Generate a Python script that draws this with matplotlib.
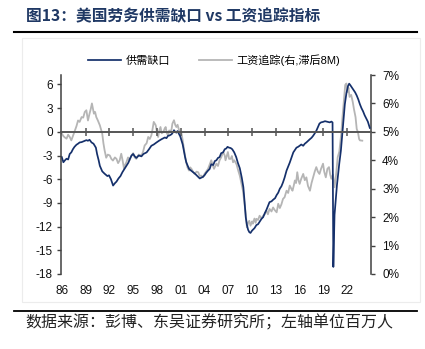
import numpy as np
import matplotlib
matplotlib.use("Agg")
import matplotlib.pyplot as plt
from matplotlib.lines import Line2D
from matplotlib.patches import Rectangle
from matplotlib.ticker import FuncFormatter

plt.rcParams['font.family'] = ['Liberation Sans', 'Noto Sans CJK SC']
plt.rcParams['axes.unicode_minus'] = False

# 供需缺口 (left axis, million persons)
gap_t = [1986.0, 1986.2, 1986.4, 1986.6, 1986.8, 1987.0, 1987.2, 1987.4, 1987.6, 1987.85,
         1988.05, 1988.25, 1988.5, 1988.7, 1988.9, 1989.1, 1989.3, 1989.5, 1989.75, 1990.0,
         1990.15, 1990.3, 1990.45, 1990.65, 1990.8, 1991.1, 1991.4, 1991.75, 1991.95, 1992.2,
         1992.47, 1992.7, 1992.9, 1993.15, 1993.4, 1993.65, 1993.9, 1994.15, 1994.4, 1994.6,
         1994.8, 1995.0, 1995.2, 1995.4, 1995.7, 1996.05, 1996.3, 1996.7, 1997.0, 1997.3,
         1997.6, 1997.95, 1998.3, 1998.6, 1999.0, 1999.2, 1999.4, 1999.6, 1999.85, 2000.0,
         2000.15, 2000.3, 2000.45, 2000.6, 2000.8, 2000.95, 2001.1, 2001.25, 2001.4, 2001.55,
         2001.7, 2002.05, 2002.3, 2002.55, 2002.8, 2003.0, 2003.2, 2003.4, 2003.6, 2003.8,
         2004.0, 2004.2, 2004.45, 2004.65, 2004.85, 2005.1, 2005.3, 2005.5, 2005.7, 2005.9,
         2006.1, 2006.35, 2006.55, 2006.75, 2006.9, 2007.1, 2007.3, 2007.5, 2007.75, 2008.0,
         2008.2, 2008.45, 2008.7, 2008.9, 2009.05, 2009.2, 2009.35, 2009.5, 2009.65, 2009.8,
         2010.0, 2010.1, 2010.3, 2010.55, 2010.75, 2010.95, 2011.2, 2011.4, 2011.6, 2011.8,
         2012.0, 2012.2, 2012.45, 2012.65, 2012.9, 2013.1, 2013.3, 2013.5, 2013.7, 2013.9,
         2014.1, 2014.35, 2014.55, 2014.75, 2015.0, 2015.2, 2015.4, 2015.6, 2015.8, 2016.0,
         2016.2, 2016.45, 2016.65, 2016.85, 2017.1, 2017.3, 2017.5, 2017.7, 2017.9, 2018.1,
         2018.3, 2018.5, 2018.7, 2018.95, 2019.2, 2019.4, 2019.6, 2019.8, 2020.0, 2020.15,
         2020.25, 2020.4, 2020.55, 2020.7, 2020.85, 2021.0, 2021.2, 2021.45, 2021.7, 2021.9,
         2022.1, 2022.25, 2022.4, 2022.6, 2022.8, 2023.0, 2023.2, 2023.4, 2023.6, 2023.8,
         2024.0, 2024.2, 2024.4, 2024.6, 2024.85]
gap_v = [-3.2, -3.85, -3.6, -3.4, -3.5, -2.8, -2.6, -2.2, -1.9, -1.63,
         -1.5, -1.34, -1.3, -1.22, -1.15, -1.05, -1.13, -1.0, -1.34, -1.5,
         -1.76, -2.0, -2.8, -3.6, -4.3, -5.0, -5.3, -5.6, -5.5, -6.0,
         -6.8, -6.5, -6.3, -5.9, -5.6, -5.1, -4.7, -4.3, -3.9, -3.4,
         -3.0, -2.8, -3.1, -3.3, -3.0, -3.1, -2.8, -2.6, -2.2, -1.76,
         -1.6, -1.34, -1.1, -0.92, -0.71, -0.8, -0.5, -0.45, -0.3, -0.1,
         0.21, 0.0, -0.1, 0.1, -0.3, -0.6, -1.1, -1.6, -2.4, -3.2,
         -3.85, -4.7, -4.9, -5.1, -5.3, -5.5, -5.7, -5.9, -5.8, -5.7,
         -5.5, -5.2, -4.9, -4.7, -4.1, -4.2, -3.7, -3.6, -3.3, -3.2,
         -2.7, -2.6, -2.2, -2.1, -1.9, -2.0, -2.05, -2.2, -2.6, -3.2,
         -3.9, -4.6, -5.8, -7.0, -8.8, -10.8, -11.8, -12.4, -12.7, -12.8,
         -12.5, -12.4, -12.2, -11.8, -11.7, -11.4, -11.0, -10.8, -10.3, -9.9,
         -9.4, -8.9, -8.8, -8.6, -8.4, -8.0, -7.7, -7.2, -6.9, -6.4,
         -5.8, -4.9, -4.4, -3.9, -3.2, -2.6, -2.3, -2.0, -1.9, -1.76,
         -1.6, -1.76, -1.5, -1.34, -1.1, -0.92, -0.75, -0.5, -0.2, 0.13,
         0.6, 1.05, 1.2, 1.26, 1.35, 1.3, 1.25, 1.2, 1.3, 1.2,
         -17.1, -10.5, -8.7, -6.8, -5.4, -4.0, -2.4, 0.5, 3.5, 4.9,
         5.8, 6.1, 5.9, 5.6, 5.3, 5.0, 4.6, 4.1, 3.5, 3.0,
         2.6, 2.1, 1.7, 1.3, 0.5]

# 工资追踪 (right axis, %, lagged 8M)
wage_t = [1986.0, 1986.2, 1986.4, 1986.6, 1986.8, 1987.0, 1987.2, 1987.4, 1987.65, 1987.85,
          1988.05, 1988.25, 1988.5, 1988.7, 1988.9, 1989.1, 1989.3, 1989.5, 1989.65, 1989.8,
          1990.05, 1990.2, 1990.35, 1990.55, 1990.8, 1991.1, 1991.25, 1991.4, 1991.6, 1991.8,
          1992.05, 1992.25, 1992.45, 1992.7, 1992.9, 1993.1, 1993.3, 1993.5, 1993.7, 1993.85,
          1994.0, 1994.15, 1994.35, 1994.55, 1994.75, 1995.0, 1995.2, 1995.4, 1995.7, 1996.05,
          1996.25, 1996.45, 1996.7, 1996.9, 1997.1, 1997.3, 1997.45, 1997.6, 1997.85, 1998.0,
          1998.15, 1998.3, 1998.45, 1998.6, 1998.8, 1998.95, 1999.1, 1999.25, 1999.4, 1999.55,
          1999.7, 1999.85, 1999.95, 2000.15, 2000.3, 2000.45, 2000.6, 2000.8, 2000.95, 2001.1,
          2001.25, 2001.4, 2001.55, 2001.7, 2001.85, 2002.05, 2002.2, 2002.35, 2002.55, 2002.75,
          2003.0, 2003.2, 2003.4, 2003.6, 2003.8, 2004.0, 2004.2, 2004.45, 2004.65, 2004.85,
          2005.05, 2005.2, 2005.5, 2005.7, 2005.9, 2006.1, 2006.35, 2006.55, 2006.65, 2006.8,
          2006.95, 2007.1, 2007.3, 2007.45, 2007.6, 2007.75, 2007.9, 2008.05, 2008.25, 2008.45,
          2008.65, 2008.85, 2009.05, 2009.2, 2009.35, 2009.5, 2009.65, 2009.8, 2010.0, 2010.1,
          2010.3, 2010.45, 2010.55, 2010.75, 2010.95, 2011.2, 2011.4, 2011.6, 2011.8, 2012.0,
          2012.2, 2012.45, 2012.65, 2012.85, 2013.1, 2013.3, 2013.5, 2013.7, 2013.9, 2014.1,
          2014.35, 2014.55, 2014.75, 2014.95, 2015.1, 2015.25, 2015.4, 2015.55, 2015.7, 2015.85,
          2016.0, 2016.2, 2016.45, 2016.65, 2016.85, 2017.05, 2017.3, 2017.5, 2017.7, 2017.9,
          2018.1, 2018.3, 2018.5, 2018.7, 2018.95, 2019.1, 2019.3, 2019.5, 2019.7, 2019.85,
          2020.0, 2020.2, 2020.4, 2020.6, 2020.8, 2021.0, 2021.25, 2021.4, 2021.55, 2021.75,
          2021.9, 2022.05, 2022.15, 2022.3, 2022.5, 2022.7, 2022.85, 2023.05, 2023.2, 2023.35,
          2023.5, 2023.6, 2023.9]
wage_v = [4.94, 4.85, 4.8, 4.76, 4.9, 4.82, 4.7, 4.85, 5.05, 5.2,
          5.4, 5.35, 5.52, 5.5, 5.7, 5.76, 5.4, 5.64, 5.8, 6.0,
          5.64, 5.7, 5.52, 5.4, 5.23, 4.94, 4.6, 4.35, 4.09, 4.2,
          4.17, 4.05, 3.99, 4.1, 4.05, 3.9, 4.0, 4.23, 3.95, 3.7,
          3.85, 3.93, 4.1, 4.0, 4.15, 4.25, 4.1, 4.05, 4.2, 4.17,
          4.3, 4.52, 4.6, 4.82, 4.75, 4.88, 5.1, 5.35, 5.23, 5.0,
          4.82, 5.05, 5.17, 4.95, 4.99, 5.1, 5.17, 4.95, 4.88, 5.05,
          4.99, 5.1, 5.29, 5.41, 5.25, 5.17, 5.25, 5.05, 5.0, 4.94,
          4.7, 4.41, 4.15, 3.93, 3.75, 3.64, 3.75, 3.7, 3.6, 3.52,
          3.6, 3.58, 3.45, 3.46, 3.4, 3.52, 3.6, 3.7, 3.85, 4.0,
          3.82, 3.7, 3.88, 3.8, 4.0, 4.1, 4.29, 4.17, 4.0, 4.15,
          4.29, 4.05, 4.05, 4.15, 3.93, 4.0, 3.93, 3.85, 3.64, 3.46,
          3.2, 2.93, 2.46, 2.11, 1.64, 1.8, 1.87, 1.7, 1.85, 1.77,
          1.95, 1.8, 1.94, 1.9, 2.05, 1.95, 2.05, 2.1, 2.23, 2.1,
          2.29, 2.2, 2.34, 2.25, 2.17, 2.47, 2.32, 2.45, 2.64, 2.7,
          2.93, 2.85, 3.11, 3.0, 2.93, 3.1, 3.29, 3.2, 3.58, 3.3,
          3.17, 3.35, 3.52, 3.3, 3.4, 3.1, 2.93, 3.2, 3.4, 3.6,
          3.76, 3.6, 3.52, 3.7, 3.88, 3.6, 3.4, 3.7, 3.76, 3.5,
          3.35, 3.5, 3.05, 3.5, 4.11, 4.3, 4.94, 5.5, 6.0, 6.65,
          6.7, 6.4, 6.55, 6.23, 6.3, 6.05, 5.8, 5.52, 5.1, 4.99,
          4.75, 4.7, 4.69]

tick_years = [1986, 1989, 1992, 1995, 1998, 2001, 2004, 2007, 2010, 2013, 2016, 2019, 2022]
tick_labels = ['86', '89', '92', '95', '98', '01', '04', '07', '10', '13', '16', '19', '22']
left_ticks = [6, 3, 0, -3, -6, -9, -12, -15, -18]
right_ticks = [0, 1, 2, 3, 4, 5, 6, 7]

blue = '#15306b'
grey = '#b5b5b5'
axis_c = '#404040'

W, H = 425, 349
fig = plt.figure(figsize=(W / 100, H / 100), dpi=100)

# faint panel border
fig.add_artist(Rectangle((22 / W, 1 - 302 / H), 398 / W, 264 / H, transform=fig.transFigure,
                         fill=False, edgecolor='#ececec', lw=0.8))

ax = fig.add_axes([61 / W, 1 - 274 / H, 310 / W, 199 / H])
ax2 = ax.twinx()
ax.set_zorder(ax2.get_zorder() + 1)
ax.patch.set_visible(False)

ax2.plot(wage_t, wage_v, color=grey, lw=1.3, label='工资追踪(右,滞后8M)')
ax.plot(gap_t, gap_v, color=blue, lw=1.25, label='供需缺口')

ax.set_xlim(1985.9, 2025.0)
ax.set_ylim(-18, 7.2)
ax2.set_ylim(0, 7)

# x axis drawn on the zero line
ax.spines['top'].set_visible(False)
ax2.spines['top'].set_visible(False)
ax2.spines['bottom'].set_visible(False)
ax2.spines['left'].set_visible(False)
ax.spines['right'].set_visible(False)
ax.spines['bottom'].set_position(('data', 0))
ax.spines['bottom'].set_color('#555555')
ax.spines['bottom'].set_linewidth(1.4)
ax.spines['left'].set_color(axis_c)
ax.spines['left'].set_linewidth(1.1)
ax2.spines['right'].set_color(axis_c)
ax2.spines['right'].set_linewidth(1.1)

ax.set_xticks(tick_years[1:])
ax.tick_params(axis='x', direction='inout', length=6, width=1.1, color='#555555',
               labelbottom=False)

sec = ax.secondary_xaxis('bottom')
sec.set_xticks(tick_years, tick_labels)
sec.spines['bottom'].set_visible(False)
sec.tick_params(axis='x', length=0, pad=8, labelsize=8.5, labelcolor='#111111')

ax.set_yticks(left_ticks)
ax.tick_params(axis='y', direction='out', length=3, width=1.0, color=axis_c,
               pad=3, labelsize=8.5, labelcolor='#111111')
ax2.set_yticks(right_ticks)
ax2.yaxis.set_major_formatter(FuncFormatter(lambda v, p: f'{v:.0f}%'))
ax2.tick_params(axis='y', direction='out', length=3, width=1.0, color=axis_c,
                pad=5, labelsize=8.5, labelcolor='#111111')

h1, l1 = ax.get_legend_handles_labels()
h2, l2 = ax2.get_legend_handles_labels()
fig.legend(h1 + h2, l1 + l2, loc='center', bbox_to_anchor=(214 / W, 1 - 60 / H),
           ncol=2, frameon=False, fontsize=8, handlelength=3.0, handletextpad=0.4,
           columnspacing=2.6)

fig.text(26 / W, 1 - 16 / H, '图13：美国劳务供需缺口 vs 工资追踪指标', fontsize=11.3,
         fontweight='bold', color='#1f3864', va='center', ha='left',
         family=['Noto Sans CJK SC', 'DejaVu Sans'])
fig.add_artist(Line2D([14 / W, 417 / W], [1 - 32 / H] * 2, color='black', lw=1.5))
fig.add_artist(Line2D([14 / W, 417 / W], [1 - 311 / H] * 2, color='black', lw=1.3))
fig.text(25 / W, 1 - 323 / H, '数据来源：彭博、东吴证券研究所；左轴单位百万人', fontsize=11.5,
         color='#222222', va='center', ha='left', family=['Noto Sans CJK SC', 'DejaVu Sans'])

fig.savefig('out.png', dpi=100)
